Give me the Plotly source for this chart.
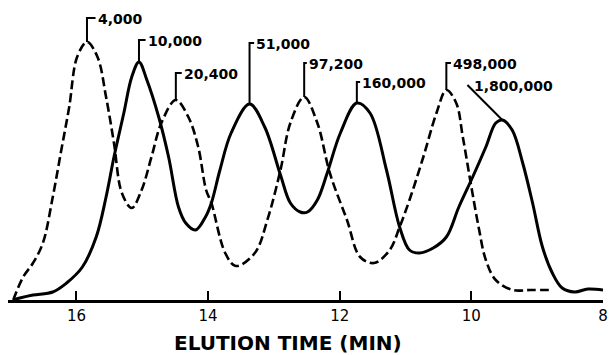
import plotly.graph_objects as go

# Elution time (min) and detector response (arbitrary units) for dashed series
dash_t = [16.96, 16.81, 16.66, 16.51, 16.36, 16.23, 16.11, 15.99, 15.84, 15.68, 15.55, 15.43,
          15.31, 15.16, 15.01, 14.86, 14.71, 14.49, 14.30, 14.15, 14.03, 13.95, 13.74, 13.58,
          13.29, 13.10, 12.90, 12.75, 12.54, 12.34, 12.15, 11.89, 11.69, 11.48, 11.24, 11.09,
          10.94, 10.73, 10.53, 10.38, 10.23, 10.13, 10.01, 9.89, 9.78, 9.63, 9.37, 9.10, 8.77]
dash_h = [0, 23, 37, 57, 103, 150, 193, 243, 258, 243, 203, 157,
          107, 92, 110, 143, 177, 200, 183, 153, 110, 97, 47, 34,
          47, 80, 130, 177, 203, 177, 127, 80, 43, 37, 50, 73,
          100, 143, 187, 210, 197, 163, 117, 73, 40, 20, 10, 10, 10]

# Solid series
solid_t = [16.96, 16.86, 16.66, 16.36, 16.15, 15.91, 15.70, 15.55, 15.43, 15.28, 15.16, 15.05,
           14.93, 14.75, 14.60, 14.45, 14.34, 14.19, 14.04, 13.95, 13.82, 13.65, 13.37, 13.14,
           12.90, 12.75, 12.60, 12.49, 12.34, 12.19, 11.99, 11.74, 11.54, 11.29, 11.09, 10.94,
           10.79, 10.58, 10.38, 10.19, 9.98, 9.78, 9.63, 9.53, 9.38, 9.22, 9.07, 8.92,
           8.77, 8.62, 8.43, 8.23, 8.00]
solid_h = [0, 2, 5, 8, 17, 33, 63, 103, 143, 187, 223, 238,
           220, 183, 143, 93, 77, 70, 83, 97, 130, 167, 196, 173,
           125, 97, 88, 88, 100, 127, 167, 197, 187, 130, 73, 50,
           47, 52, 63, 93, 123, 153, 177, 180, 170, 137, 97, 53,
           27, 12, 8, 11, 10]

# Peak labels (molecular weights)
label_text = ["4,000", "10,000", "20,400", "51,000", "97,200", "160,000", "498,000", "1,800,000"]
label_peak_t = [15.84, 15.05, 14.49, 13.37, 12.54, 11.74, 10.38, 9.53]
label_peak_h = [258, 238, 200, 196, 203, 197, 210, 180]
label_top_h = [282, 260, 227, 257, 237, 218, 237, 215]
label_end_t = [15.71, 14.95, 14.40, 13.30, 12.50, 11.69, 10.31, 10.06]
label_kind = ["bracket"] * 7 + ["diagonal"]

tick_vals = [16, 14, 12, 10, 8]
tick_text = ["16", "14", "12", "10", "8"]
axis_title = "ELUTION TIME (MIN)"

fig = go.Figure()
fig.add_trace(go.Scatter(x=dash_t, y=dash_h, mode="lines",
                         line=dict(color="black", width=2.6, dash="9px,4px", shape="spline", smoothing=1.0),
                         hoverinfo="skip"))
fig.add_trace(go.Scatter(x=solid_t, y=solid_h, mode="lines",
                         line=dict(color="black", width=3, shape="spline", smoothing=1.0),
                         hoverinfo="skip"))

for txt, pt, ph, th, et, kind in zip(label_text, label_peak_t, label_peak_h, label_top_h, label_end_t, label_kind):
    if kind == "bracket":
        xs, ys = [pt, pt, et], [ph, th, th]
    else:
        xs, ys = [pt, et], [ph, th]
    fig.add_trace(go.Scatter(x=xs, y=ys, mode="lines", line=dict(color="black", width=2),
                             hoverinfo="skip"))
    fig.add_annotation(x=et, y=th, text=txt, showarrow=False, xanchor="left", yanchor="middle",
                       xshift=0 if kind == "bracket" else 5, yshift=-1,
                       font=dict(family="DejaVu Sans", size=14, color="black", weight="bold"))

fig.add_annotation(xref="paper", yref="paper", x=0.47, y=-0.148, text=axis_title,
                   showarrow=False, xanchor="center", yanchor="middle",
                   font=dict(family="DejaVu Sans", size=20, color="black", weight="bold"))

fig.update_layout(
    width=614, height=355,
    margin=dict(l=8, r=6, t=10, b=55),
    paper_bgcolor="white", plot_bgcolor="white",
    showlegend=False,
    xaxis=dict(range=[17.04, 8], tickvals=tick_vals, ticktext=tick_text,
               ticks="inside", ticklen=9, tickwidth=2, tickcolor="black",
               showline=True, linecolor="black", linewidth=3, showgrid=False, zeroline=False,
               tickfont=dict(family="DejaVu Sans", size=15, color="black")),
    yaxis=dict(range=[0, 290], visible=False),
)
fig.write_html("out.html")
